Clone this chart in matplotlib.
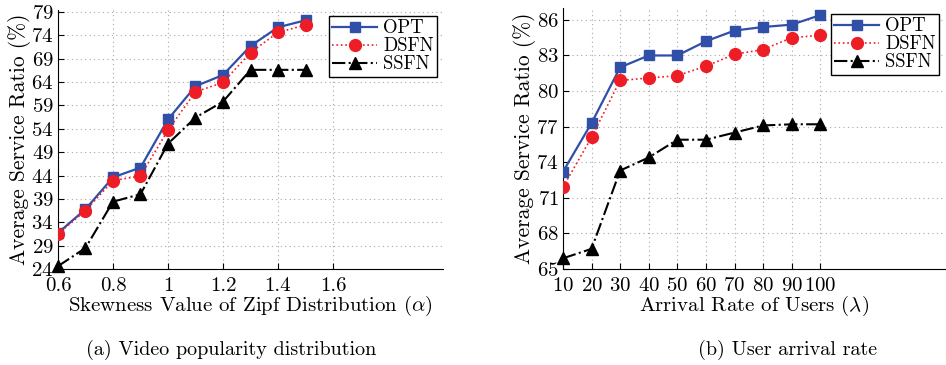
import matplotlib
matplotlib.use("Agg")
import matplotlib.pyplot as plt

plt.rcParams['font.family'] = ['cmr10', 'DejaVu Serif']
plt.rcParams['mathtext.fontset'] = 'cm'
plt.rcParams['axes.formatter.use_mathtext'] = True

# (a) Video popularity distribution
alpha = [0.6, 0.7, 0.8, 0.9, 1.0, 1.1, 1.2, 1.3, 1.4, 1.5]
opt_a = [31.7, 36.8, 43.6, 45.7, 56.0, 63.1, 65.5, 71.7, 75.7, 77.2]
dsfn_a = [31.5, 36.5, 42.9, 43.9, 53.7, 61.9, 63.9, 70.3, 74.6, 76.2]
ssfn_a = [24.6, 28.5, 38.4, 40.0, 50.8, 56.4, 59.8, 66.6, 66.6, 66.6]
xticks_a = [0.6, 0.8, 1.0, 1.2, 1.4, 1.6]
xticklabels_a = ['0.6', '0.8', '1', '1.2', '1.4', '1.6']
yticks_a = [24, 29, 34, 39, 44, 49, 54, 59, 64, 69, 74, 79]

# (b) User arrival rate
lam = [10, 20, 30, 40, 50, 60, 70, 80, 90, 100]
opt_b = [73.2, 77.3, 82.0, 83.0, 83.0, 84.2, 85.1, 85.4, 85.6, 86.4]
dsfn_b = [71.9, 76.1, 80.9, 81.1, 81.3, 82.1, 83.1, 83.5, 84.5, 84.7]
ssfn_b = [65.9, 66.7, 73.3, 74.4, 75.9, 75.9, 76.5, 77.1, 77.2, 77.2]
yticks_b = [65, 68, 71, 74, 77, 80, 83, 86]

blue = '#2f4fa8'
red = '#ee1c24'

fig = plt.figure(figsize=(9.46, 3.65), dpi=100)
ax1 = fig.add_axes([0.0613, 0.263, 0.407, 0.7096])
ax2 = fig.add_axes([0.5951, 0.263, 0.4038, 0.715])


def draw(ax, x, opt, dsfn, ssfn):
    ax.plot(x, opt, '-', color=blue, lw=1.6, marker='s', ms=6.5,
            mfc=blue, mec=blue, label='OPT', zorder=3)
    ax.plot(x, dsfn, ':', color=red, lw=1.2, marker='o', ms=8.5,
            mfc=red, mec=red, label='DSFN', zorder=4)
    ax.plot(x, ssfn, '-.', color='black', lw=1.5, marker='^', ms=9,
            mfc='black', mec='black', label='SSFN', zorder=2, clip_on=False)
    for s in ['top', 'right']:
        ax.spines[s].set_visible(False)
    ax.grid(True, linestyle=(0, (1, 3)), color='#a8a8a8', lw=0.8)
    ax.set_axisbelow(True)
    ax.tick_params(direction='in', length=4, labelsize=15)
    ax.tick_params(axis='x', pad=6)
    ax.tick_params(axis='y', pad=3)
    leg = ax.legend(loc='upper right', fontsize=13.5, labelspacing=0.0,
                    borderpad=0.2, handletextpad=0.3, handlelength=2.4,
                    fancybox=False, edgecolor='black', framealpha=1,
                    borderaxespad=0.3)
    leg.get_frame().set_linewidth(1.0)


draw(ax1, alpha, opt_a, dsfn_a, ssfn_a)
ax1.set_xlim(0.6, 2.0)
ax1.set_ylim(24, 79.4)
ax1.set_xticks(xticks_a)
ax1.set_xticklabels(xticklabels_a)
ax1.set_yticks(yticks_a)
ax1.set_xlabel(r'Skewness Value of Zipf Distribution ($\alpha$)', fontsize=15, labelpad=-1)
ax1.set_ylabel('Average Service Ratio (%)', fontsize=15.5, labelpad=0)

draw(ax2, lam, opt_b, dsfn_b, ssfn_b)
ax2.set_xlim(10, 143.6)
ax2.set_ylim(65, 87)
ax2.set_xticks(lam)
ax2.set_yticks(yticks_b)
ax2.set_xlabel(r'Arrival Rate of Users ($\lambda$)', fontsize=15, labelpad=-1)
ax2.set_ylabel('Average Service Ratio (%)', fontsize=15.5, labelpad=0)

fig.text(0.244, 0.041, '(a) Video popularity distribution', ha='center', va='center', fontsize=14.5)
fig.text(0.833, 0.041, '(b) User arrival rate', ha='center', va='center', fontsize=14.5)

fig.savefig('out.png', dpi=100)
